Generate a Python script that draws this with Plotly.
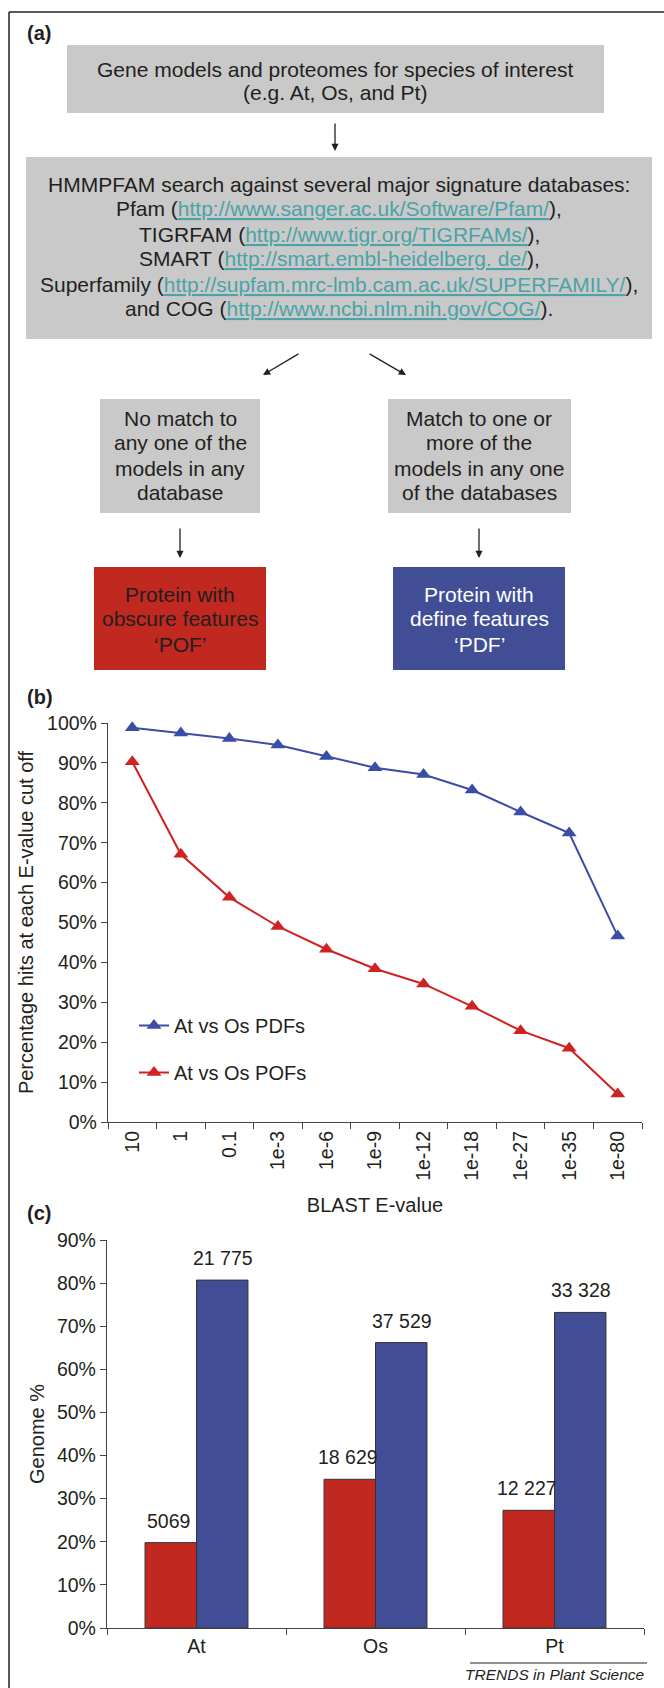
import plotly.graph_objects as go

W, H = 664, 1688

# ---------------- data ----------------
evalues = ["10", "1", "0.1", "1e-3", "1e-6", "1e-9", "1e-12", "1e-18", "1e-27", "1e-35", "1e-80"]
pdf_pct = [98.8, 97.5, 96.1, 94.5, 91.6, 88.8, 87.1, 83.2, 77.7, 72.4, 46.6]
pof_pct = [90.3, 67.1, 56.3, 49.0, 43.3, 38.4, 34.6, 29.0, 22.9, 18.5, 7.0]

species = ["At", "Os", "Pt"]
pof_genome_pct = [19.8, 34.5, 27.3]
pdf_genome_pct = [80.7, 66.2, 73.2]
pof_counts = ["5069", "18 629", "12 227"]
pdf_counts = ["21 775", "37 529", "33 328"]

# ---------------- style ----------------
FONT = "Liberation Sans, Arial, Helvetica, sans-serif"
TXT = "#231F20"
GRAY = "#C9C9C9"
RED = "#C1281F"
BLUE = "#414E95"
LINE_BLUE = "#3B4DA6"
LINE_RED = "#CF2222"
LINK = "#4BA3A8"
AXIS = "#444444"


def X(px):
    return px / W


def Y(py):
    return 1 - py / H


shapes = []
annotations = []


def rect(x0, y0, x1, y1, color):
    shapes.append(dict(type="rect", xref="paper", yref="paper",
                       x0=X(x0), x1=X(x1), y0=Y(y1), y1=Y(y0),
                       fillcolor=color, line=dict(width=0), layer="below"))


def text(cx, cy, s, size=21, color=TXT, anchor="center", bold=False):
    if bold:
        s = "<b>" + s + "</b>"
    annotations.append(dict(x=X(cx), y=Y(cy), xref="paper", yref="paper",
                            text=s, showarrow=False, xanchor=anchor, yanchor="middle",
                            font=dict(size=size, color=color, family=FONT)))


def arrow(tx, ty, hx, hy):
    annotations.append(dict(x=X(hx), y=Y(hy), xref="paper", yref="paper",
                            ax=tx - hx, ay=ty - hy, axref="pixel", ayref="pixel",
                            text="", showarrow=True, arrowhead=2, arrowsize=1.1,
                            arrowwidth=1.3, arrowcolor=TXT))


def link(u):
    return '(<span style="color:%s;text-decoration:underline">%s</span>)' % (LINK, u)


# frame
shapes.append(dict(type="line", xref="paper", yref="paper", x0=X(9), x1=X(664), y0=Y(12), y1=Y(12),
                   line=dict(color=TXT, width=1.5)))
shapes.append(dict(type="line", xref="paper", yref="paper", x0=X(9), x1=X(9), y0=Y(12), y1=Y(1688),
                   line=dict(color=TXT, width=1.5)))

# panel labels
text(25, 33, "(a)", size=20, anchor="left", bold=True)
text(25, 697, "(b)", size=20, anchor="left", bold=True)
text(25, 1213, "(c)", size=20, anchor="left", bold=True)

# ---------------- panel (a): flowchart ----------------
rect(67, 45, 604, 113, GRAY)
text(335.5, 69, "Gene models and proteomes for species of interest")
text(335.5, 93, "(e.g. At, Os, and Pt)")
arrow(335, 122, 335, 151)

rect(26, 157, 652, 339, GRAY)
box2_lines = [
    "HMMPFAM search against several major signature databases:",
    "Pfam " + link("http://www.sanger.ac.uk/Software/Pfam/") + ",",
    "TIGRFAM " + link("http://www.tigr.org/TIGRFAMs/") + ",",
    "SMART " + link("http://smart.embl-heidelberg. de/") + ",",
    "Superfamily " + link("http://supfam.mrc-lmb.cam.ac.uk/SUPERFAMILY/") + ",",
    "and COG " + link("http://www.ncbi.nlm.nih.gov/COG/") + ".",
]
for i, ln in enumerate(box2_lines):
    text(339, 184 + i * 25, ln)

arrow(300, 353, 263, 375)
arrow(368, 353, 406, 375)

rect(100, 399, 260, 513, GRAY)
rect(388, 399, 571, 513, GRAY)
for i, ln in enumerate(["No match to", "any one of the", "models in any", "database"]):
    text(180, 418 + i * 25, ln)
for i, ln in enumerate(["Match to one or", "more of the", "models in any one", "of the databases"]):
    text(479, 418 + i * 25, ln)

arrow(180, 527, 180, 558)
arrow(479, 527, 479, 558)

rect(94, 567, 266, 670, RED)
rect(393, 567, 565, 670, BLUE)
for i, ln in enumerate(["Protein with", "obscure features", "\u2018POF\u2019"]):
    text(180, 594 + i * 25, ln)
for i, ln in enumerate(["Protein with", "define features", "\u2018PDF\u2019"]):
    text(479, 594 + i * 25, ln, color="white")

# ---------------- panel (b): line chart ----------------
fig = go.Figure()
fig.add_trace(go.Scatter(x=evalues, y=pdf_pct, mode="lines+markers", name="At vs Os PDFs",
                         line=dict(color=LINE_BLUE, width=2),
                         marker=dict(symbol="triangle-up", size=13, color=LINE_BLUE),
                         cliponaxis=False, legendgroup="pdf", xaxis="x", yaxis="y"))
fig.add_trace(go.Scatter(x=evalues, y=pof_pct, mode="lines+markers", name="At vs Os POFs",
                         line=dict(color=LINE_RED, width=2),
                         marker=dict(symbol="triangle-up", size=13, color=LINE_RED),
                         cliponaxis=False, legendgroup="pof", xaxis="x", yaxis="y"))

# ---------------- panel (c): bar chart ----------------
fig.add_trace(go.Bar(x=species, y=pof_genome_pct, name="POF", showlegend=False,
                     marker=dict(color=RED, line=dict(color="#333333", width=1)),
                     xaxis="x2", yaxis="y2"))
fig.add_trace(go.Bar(x=species, y=pdf_genome_pct, name="PDF", showlegend=False,
                     marker=dict(color=BLUE, line=dict(color="#333333", width=1)),
                     xaxis="x2", yaxis="y2"))

for i, sp in enumerate(species):
    annotations.append(dict(x=sp, y=pof_genome_pct[i], xref="x2", yref="y2", text=pof_counts[i],
                            showarrow=False, xshift=-28, yshift=22, yanchor="middle",
                            font=dict(size=19.5, color=TXT, family=FONT)))
    annotations.append(dict(x=sp, y=pdf_genome_pct[i], xref="x2", yref="y2", text=pdf_counts[i],
                            showarrow=False, xshift=26, yshift=22, yanchor="middle",
                            font=dict(size=19.5, color=TXT, family=FONT)))

# footer
annotations.append(dict(x=X(647), y=Y(1674), xref="paper", yref="paper",
                        text="<i>TRENDS in Plant Science</i>", showarrow=False,
                        xanchor="right", yanchor="middle",
                        font=dict(size=15.5, color=TXT, family=FONT)))
shapes.append(dict(type="line", xref="paper", yref="paper", x0=X(470), x1=X(647), y0=Y(1663), y1=Y(1663),
                   line=dict(color=TXT, width=1)))

axis_common = dict(showline=True, linecolor=AXIS, linewidth=1.3, ticks="outside", ticklen=6,
                   tickcolor=AXIS, tickwidth=1.3, showgrid=False, zeroline=False, automargin=False,
                   tickfont=dict(size=19.5, color=TXT, family=FONT), fixedrange=True)

fig.update_layout(
    width=W, height=H,
    margin=dict(l=0, r=0, t=0, b=0),
    paper_bgcolor="white", plot_bgcolor="white",
    font=dict(family=FONT, size=19.5, color=TXT),
    barmode="group", bargap=0.425, bargroupgap=0,
    showlegend=True,
    legend=dict(x=X(134), y=Y(1006), xanchor="left", yanchor="top",
                bgcolor="rgba(0,0,0,0)", font=dict(size=20, color=TXT, family=FONT),
                traceorder="grouped", tracegroupgap=18),
    xaxis=dict(domain=[X(108), X(642)], anchor="y", type="category", range=[-0.5, 10.5],
               tickson="boundaries", tickangle=-90,
               title=dict(text="BLAST E-value", standoff=18, font=dict(size=20)), **axis_common),
    yaxis=dict(domain=[Y(1122), Y(723)], anchor="x", range=[0, 100], dtick=10, ticksuffix="%",
               title=dict(text="Percentage hits at each E-value cut off", standoff=8, font=dict(size=20)),
               **axis_common),
    xaxis2=dict(domain=[X(107), X(644)], anchor="y2", type="category", range=[-0.5, 2.5],
                tickson="boundaries", **axis_common),
    yaxis2=dict(domain=[Y(1628), Y(1240)], anchor="x2", range=[0, 90], dtick=10, ticksuffix="%",
                title=dict(text="Genome %", standoff=6, font=dict(size=20)), **axis_common),
    shapes=shapes,
    annotations=annotations,
)

fig.write_html("out.html", config={"displayModeBar": False},
               post_script="document.body.style.margin='0';")
